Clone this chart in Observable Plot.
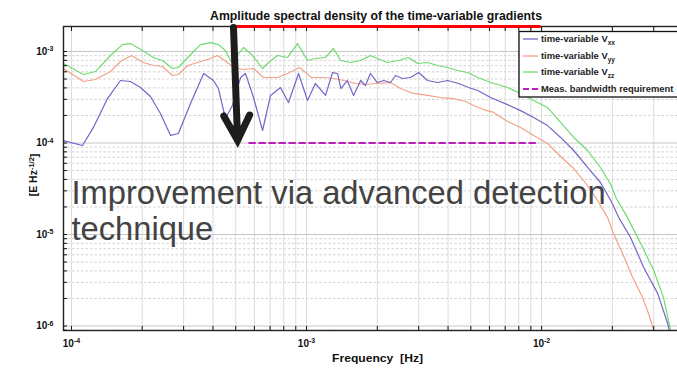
<!DOCTYPE html>
<html>
<head>
<meta charset="utf-8">
<script src="https://cdn.jsdelivr.net/npm/d3@7"></script>
<script src="https://cdn.jsdelivr.net/npm/@observablehq/plot@0.6"></script>
<style>
html, body { margin:0; padding:0; background:#fff; overflow:hidden; }
#chart { width:677px; height:368px; overflow:hidden; }
svg text { white-space: pre; }
</style>
</head>
<body>
<div id="chart"></div>
<script>
// ---------- data ----------
const freqXX = [9.24e-5,1.114e-4,1.24e-4,1.423e-4,1.616e-4,1.782e-4,1.966e-4,2.168e-4,2.39e-4,2.64e-4,2.85e-4,3.21e-4,3.65e-4,4.02e-4,4.22e-4,4.52e-4,4.84e-4,5.24e-4,5.50e-4,5.95e-4,6.50e-4,7.03e-4,7.75e-4,8.38e-4,9.25e-4,1.01e-3,1.09e-3,1.205e-3,1.29e-3,1.355e-3,1.40e-3,1.49e-3,1.585e-3,1.70e-3,1.78e-3,1.87e-3,2.00e-3,2.13e-3,2.28e-3,2.39e-3,2.56e-3,2.77e-3,3.00e-3,3.27e-3,3.61e-3,3.98e-3,4.44e-3,4.89e-3,5.35e-3,6.07e-3,7.16e-3,8.14e-3,9.25e-3,1.06e-2,1.205e-2,1.37e-2,1.57e-2,1.78e-2,1.97e-2,2.13e-2,2.39e-2,2.72e-2,3.12e-2,3.44e-2,3.61e-2];
const asdXX = [1.06e-4,9.40e-5,1.48e-4,3.06e-4,4.82e-4,4.70e-4,4.04e-4,3.22e-4,2.10e-4,1.21e-4,1.27e-4,2.70e-4,5.75e-4,4.82e-4,3.94e-4,1.85e-4,2.57e-4,5.20e-4,5.75e-4,3.14e-4,1.37e-4,3.31e-4,4.04e-4,2.77e-4,5.75e-4,2.91e-4,4.47e-4,3.31e-4,5.89e-4,5.75e-4,3.94e-4,4.82e-4,3.31e-4,4.82e-4,4.25e-4,5.75e-4,4.58e-4,4.82e-4,4.58e-4,5.47e-4,5.07e-4,5.20e-4,5.89e-4,4.82e-4,4.58e-4,4.82e-4,4.47e-4,4.04e-4,3.75e-4,3.14e-4,2.63e-4,2.26e-4,1.90e-4,1.55e-4,1.15e-4,8.28e-5,5.40e-5,3.70e-5,2.35e-5,1.53e-5,9.27e-6,4.36e-6,2.26e-6,1.06e-6,6.1e-7];

const freqYY = [9.24e-5,1.125e-4,1.265e-4,1.466e-4,1.616e-4,1.80e-4,2.02e-4,2.233e-4,2.44e-4,2.69e-4,2.85e-4,3.12e-4,3.44e-4,3.90e-4,4.18e-4,4.61e-4,4.89e-4,5.40e-4,5.95e-4,6.56e-4,7.53e-4,8.30e-4,9.34e-4,1.05e-3,1.18e-3,1.30e-3,1.44e-3,1.62e-3,1.78e-3,1.97e-3,2.28e-3,2.51e-3,2.85e-3,3.27e-3,3.72e-3,4.22e-3,4.75e-3,5.14e-3,5.66e-3,6.25e-3,7.16e-3,8.14e-3,9.25e-3,1.06e-2,1.205e-2,1.37e-2,1.51e-2,1.62e-2,1.73e-2,1.91e-2,2.02e-2,2.21e-2,2.44e-2,2.69e-2,2.85e-2,3.00e-2,3.15e-2];
const asdYY = [6.52e-4,4.70e-4,4.94e-4,6.04e-4,7.78e-4,9.04e-4,7.58e-4,7.03e-4,6.86e-4,5.47e-4,5.61e-4,7.03e-4,7.58e-4,8.38e-4,9.04e-4,7.58e-4,6.69e-4,6.36e-4,6.52e-4,5.20e-4,5.20e-4,5.75e-4,6.69e-4,5.20e-4,5.20e-4,5.07e-4,4.82e-4,4.47e-4,4.36e-4,4.47e-4,4.58e-4,3.94e-4,3.48e-4,3.31e-4,3.14e-4,3.06e-4,2.84e-4,2.57e-4,2.32e-4,2.16e-4,1.72e-4,1.48e-4,1.21e-4,9.88e-5,7.12e-5,5.26e-5,3.89e-5,3.03e-5,2.35e-5,1.53e-5,1.03e-5,6.20e-6,3.39e-6,2.05e-6,1.37e-6,8.93e-7,5.4e-7];

const freqZZ = [9.24e-5,1.125e-4,1.265e-4,1.466e-4,1.648e-4,1.782e-4,2.005e-4,2.233e-4,2.44e-4,2.69e-4,2.85e-4,3.15e-4,3.54e-4,3.90e-4,4.22e-4,4.52e-4,4.80e-4,5.40e-4,5.89e-4,6.50e-4,6.89e-4,7.53e-4,8.30e-4,9.16e-4,1.01e-3,1.09e-3,1.205e-3,1.30e-3,1.40e-3,1.54e-3,1.70e-3,1.87e-3,2.00e-3,2.21e-3,2.46e-3,2.72e-3,2.97e-3,3.27e-3,3.61e-3,3.98e-3,4.40e-3,4.84e-3,5.35e-3,6.07e-3,7.16e-3,8.14e-3,9.25e-3,1.06e-2,1.205e-2,1.37e-2,1.57e-2,1.78e-2,1.97e-2,2.07e-2,2.32e-2,2.64e-2,3.00e-2,3.30e-2,3.54e-2,3.75e-2];
const asdZZ = [7.39e-4,5.61e-4,6.04e-4,9.04e-4,1.19e-3,1.22e-3,1.026e-3,8.60e-4,7.97e-4,6.52e-4,6.69e-4,8.82e-4,1.19e-3,1.25e-3,1.19e-3,1.026e-3,7.58e-4,1.106e-3,9.04e-4,6.52e-4,7.58e-4,9.04e-4,8.60e-4,1.22e-3,7.97e-4,8.38e-4,8.60e-4,1.08e-3,7.97e-4,7.58e-4,7.97e-4,9.04e-4,8.38e-4,7.58e-4,7.97e-4,8.60e-4,7.39e-4,7.58e-4,7.03e-4,6.69e-4,6.20e-4,5.89e-4,5.20e-4,4.58e-4,4.04e-4,3.48e-4,2.91e-4,2.44e-4,1.68e-4,1.15e-4,8.28e-5,5.40e-5,3.52e-5,2.54e-5,1.53e-5,7.97e-6,4.04e-6,2.05e-6,8.93e-7,5.4e-7];

// measurement bandwidth requirement (dashed)
const reqFreq = [5.7e-4, 9.7e-3];
const reqAsd = [1e-4, 1e-4];
// red highlight band on top edge
const redFreq = [4.84e-4, 9.8e-3];
const redAsd = [1.876e-3, 1.876e-3];
// annotation arrow (start / end)
const arrowFrom = [4.89e-4, 1.83e-3];
const arrowTo = [5.09e-4, 1.07e-4];
// big annotation text
const noteLines = ["Improvement via advanced detection", "technique"];
const noteX = [1e-4, 1e-4];
const noteY = [2.18e-5, 8.81e-6];

// text
const titleText = "Amplitude spectral density of the time-variable gradients";
const xLabelText = "Frequency  [Hz]";
const yLabelParts = ["[E Hz", "-1/2", "]"];
const xMajor = [1e-4, 1e-3, 1e-2];
const xMajorLabels = ["10^-4", "10^-3", "10^-2"];
const yMajor = [1e-6, 1e-5, 1e-4, 1e-3];
const yMajorLabels = ["10^-6", "10^-5", "10^-4", "10^-3"];
const legendNames = ["time-variable V", "time-variable V", "time-variable V", "Meas. bandwidth requirement"];
const legendSubs = ["xx", "yy", "zz", ""];
const seriesColors = ["#7366c8", "#f3a286", "#6fda6f", "#bb1ebb"];

const xDomain = [9.25e-5, 4.3e-2];
const yDomain = [8.93e-7, 1.876e-3];

// ---------- helpers ----------
function logTicks(lo, hi) {
  const t = [];
  for (let e = Math.floor(Math.log10(lo)); e <= Math.ceil(Math.log10(hi)); e++)
    for (let m = 1; m <= 9; m++) { const v = +(m * Math.pow(10, e)).toPrecision(6); if (v >= lo && v <= hi) t.push(v); }
  return t;
}
const xAll = logTicks(xDomain[0], xDomain[1]);
const yAll = logTicks(yDomain[0], yDomain[1]);
const yMinor = yAll.filter(v => !yMajor.some(m => Math.abs(m - v) / m < 1e-6));
const rows = (fs, vs) => fs.map((f, i) => ({f, v: vs[i]}));
const FONT = "'Liberation Sans', Arial, Helvetica, sans-serif";

const svg = Plot.plot({
  width: 677, height: 368,
  marginTop: 26, marginRight: -13, marginBottom: 38, marginLeft: 63,
  style: {fontFamily: FONT, fontSize: "10px", color: "#111", background: "#fff"},
  x: {type: "log", domain: xDomain},
  y: {type: "log", domain: yDomain},
  marks: [
    Plot.gridX(xAll, {stroke: "#dcdcdc", strokeOpacity: 1}),
    Plot.gridY(yMinor, {stroke: "#d2d2d2", strokeOpacity: 1, strokeDasharray: "2.5,2"}),
    Plot.gridY(yMajor, {stroke: "#c6c6c6", strokeOpacity: 1}),
    Plot.line(rows(freqYY, asdYY), {x: "f", y: "v", stroke: seriesColors[1], strokeWidth: 1.2, clip: true}),
    Plot.line(rows(freqZZ, asdZZ), {x: "f", y: "v", stroke: seriesColors[2], strokeWidth: 1.2, clip: true}),
    Plot.line(rows(freqXX, asdXX), {x: "f", y: "v", stroke: seriesColors[0], strokeWidth: 1.2, clip: true}),
    Plot.line(rows(reqFreq, reqAsd), {x: "f", y: "v", stroke: seriesColors[3], strokeWidth: 1.8, strokeDasharray: "6,4"}),
    Plot.frame({stroke: "#222", strokeWidth: 1.4}),
    Plot.line(rows(redFreq, redAsd), {x: "f", y: "v", stroke: "#ff0000", strokeWidth: 3}),
    Plot.axisX({ticks: xMajor, tickSize: 0, tickPadding: 9, tickFormat: d => xMajorLabels[xMajor.indexOf(d)], label: null}),
    Plot.axisX({ticks: xAll, tickSize: -4, tickFormat: () => "", label: null}),
    Plot.axisX({anchor: "top", ticks: xAll, tickSize: -4, tickFormat: () => "", label: null}),
    Plot.axisY({ticks: yMajor, tickSize: 0, tickPadding: 10, tickFormat: d => yMajorLabels[yMajor.indexOf(d)], label: null}),
    Plot.axisY({ticks: yAll, tickSize: -4, tickFormat: () => "", label: null}),
    Plot.text(noteLines, {x: (d, i) => noteX[i], y: (d, i) => noteY[i], text: d => d, textAnchor: "start", lineAnchor: "bottom", fontSize: 32.7, fill: "#434343", fontFamily: FONT, fontWeight: "normal"}),
    Plot.arrow([0], {x1: () => arrowFrom[0], y1: () => arrowFrom[1], x2: () => arrowTo[0], y2: () => arrowTo[1], stroke: "#1d1d1d", strokeWidth: 7, headLength: 6, headAngle: 55, strokeLinejoin: "miter", strokeMiterlimit: 10})
  ]
});

const S = d3.select(svg);
// superscript tick labels
S.selectAll('g[aria-label$="tick label"] text').each(function() {
  const s = this.textContent;
  const m = /^10\^(.*)$/.exec(s);
  if (!m) return;
  const t = d3.select(this);
  t.text("10").attr("font-weight", "bold");
  t.append("tspan").attr("dy", "-0.5em").attr("font-size", "7px").text(m[1]);
});

// title
S.append("text").attr("x", 376).attr("y", 20).attr("text-anchor", "middle")
  .attr("font-size", 12).attr("font-weight", "bold").attr("fill", "#111")
  .attr("textLength", 332).attr("lengthAdjust", "spacingAndGlyphs").text(titleText);
// x label
S.append("text").attr("x", 377.5).attr("y", 362).attr("text-anchor", "middle")
  .attr("font-size", 11).attr("font-weight", "bold").attr("fill", "#111")
  .attr("textLength", 91).attr("lengthAdjust", "spacingAndGlyphs").text(xLabelText);
// y label
const yl = S.append("text").attr("transform", "translate(37,175) rotate(-90)").attr("text-anchor", "middle")
  .attr("font-size", 10.5).attr("font-weight", "bold").attr("fill", "#111");
yl.append("tspan").text(yLabelParts[0]);
yl.append("tspan").attr("dy", "-0.45em").attr("font-size", "7.5px").text(yLabelParts[1]);
yl.append("tspan").attr("dy", "0.45em").text(yLabelParts[2]);

// legend
const L = S.append("g").attr("text-anchor", "start");
L.append("rect").attr("x", 519).attr("y", 31.5).attr("width", 220).attr("height", 65.5)
  .attr("fill", "#fff").attr("stroke", "#111").attr("stroke-width", 1.3);
const rowY = [39, 56, 72, 89];
legendNames.forEach((name, i) => {
  L.append("line").attr("x1", 523).attr("x2", 538).attr("y1", rowY[i]).attr("y2", rowY[i])
    .attr("stroke", seriesColors[i]).attr("stroke-width", i === 3 ? 1.8 : 1.3)
    .attr("stroke-dasharray", i === 3 ? "6,3" : null);
  const t = L.append("text").attr("x", 541).attr("y", rowY[i] + 3.3).attr("font-size", 9.4)
    .attr("text-anchor", "start").attr("font-weight", "bold").attr("fill", "#222");
  t.append("tspan").text(name);
  if (legendSubs[i]) t.append("tspan").attr("dy", "3").attr("font-size", "6.5px").text(legendSubs[i]);
});

document.getElementById("chart").appendChild(svg);
</script>
</body>
</html>
